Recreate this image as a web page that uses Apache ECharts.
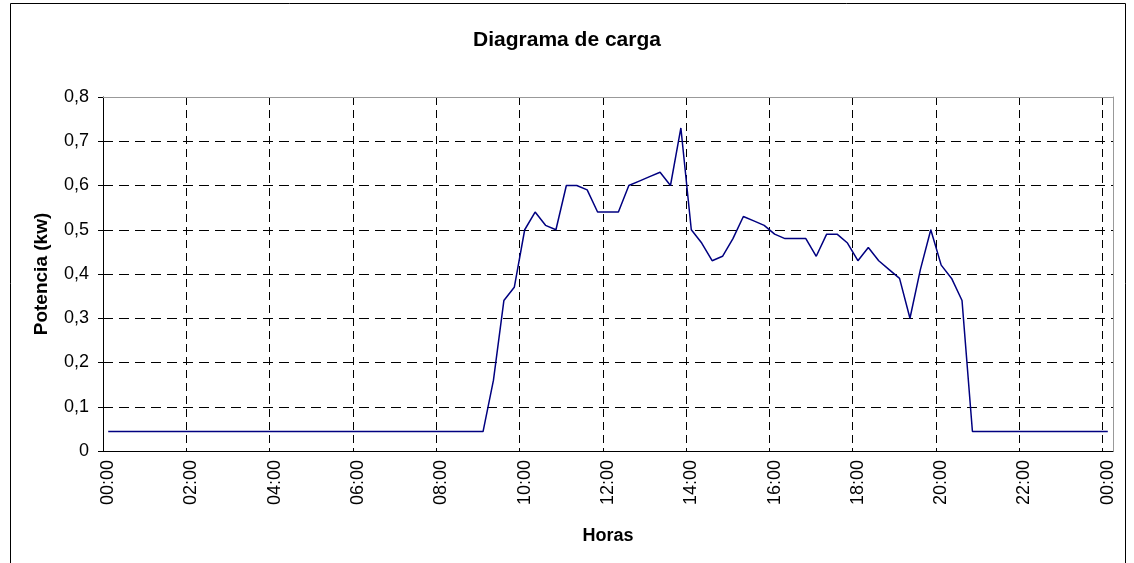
<!DOCTYPE html>
<html lang="es">
  <head>
    <meta charset="UTF-8" />
    <title>Diagrama de carga</title>
    <style>
      html, body { margin: 0; padding: 0; background: #fff; }
      #container { width: 1134px; height: 563px; }
    </style>
    <script src="https://cdn.jsdelivr.net/npm/echarts@6.0.0/dist/echarts.min.js"></script>
  </head>
  <body>
    <div id="container"></div>
    <script>
      // 15 min steps, 00:00 .. 24:00 (shown as 00:00)
      const horas = []
      for (let k = 0; k <= 96; k++) {
        const h = Math.floor(k / 4) % 24
        const m = (k % 4) * 15
        horas.push(String(h).padStart(2, '0') + ':' + String(m).padStart(2, '0'))
      }

      const potencia = [
        0.044, 0.044, 0.044, 0.044, 0.044, 0.044, 0.044, 0.044, 0.044, 0.044,
        0.044, 0.044, 0.044, 0.044, 0.044, 0.044, 0.044, 0.044, 0.044, 0.044,
        0.044, 0.044, 0.044, 0.044, 0.044, 0.044, 0.044, 0.044, 0.044, 0.044,
        0.044, 0.044, 0.044, 0.044, 0.044, 0.044, 0.044,
        0.16, 0.34, 0.37, 0.50, 0.54, 0.51, 0.50, 0.60, 0.60, 0.59,
        0.54, 0.54, 0.54, 0.60, 0.61, 0.62, 0.63, 0.60, 0.73, 0.50,
        0.47, 0.43, 0.44, 0.48, 0.53, 0.52, 0.51, 0.49, 0.48, 0.48,
        0.48, 0.44, 0.49, 0.49, 0.47, 0.43, 0.46, 0.43, 0.41, 0.39,
        0.30, 0.41, 0.50, 0.42, 0.39, 0.34,
        0.044, 0.044, 0.044, 0.044, 0.044, 0.044, 0.044, 0.044, 0.044, 0.044,
        0.044, 0.044, 0.044, 0.044
      ]

      const font = 'Liberation Sans'
      const chart = echarts.init(document.getElementById('container'))

      chart.setOption({
        animation: false,
        textStyle: { fontFamily: font },
        title: {
          text: 'Diagrama de carga',
          left: 'center',
          top: 25,
          textStyle: { fontSize: 21, fontWeight: 'bold', color: '#000', fontFamily: font }
        },
        graphic: [
          {
            type: 'rect',
            shape: { x: 10.5, y: 3.5, width: 1115, height: 580 },
            style: { fill: 'none', stroke: '#000', lineWidth: 1 },
            silent: true
          }
        ],
        grid: { left: 103, top: 97, right: 21, bottom: 112 },
        xAxis: [
          {
            type: 'category',
            data: horas,
            boundaryGap: true,
            name: 'Horas',
            nameLocation: 'middle',
            nameGap: 76,
            nameTextStyle: { fontSize: 18, fontWeight: 'bold', color: '#000', fontFamily: font },
            axisLine: { onZero: false, lineStyle: { color: '#000', width: 1 } },
            axisTick: { interval: 7, length: 5, lineStyle: { color: '#000' } },
            axisLabel: { interval: 7, rotate: 90, margin: 9, fontSize: 18, color: '#000', fontFamily: font },
            splitLine: { show: true, interval: 7, lineStyle: { color: '#000', type: [8, 5], width: 1 } }
          },
          {
            type: 'category',
            data: horas,
            position: 'top',
            axisLine: { show: true, onZero: false, lineStyle: { color: '#999', width: 1 } },
            axisTick: { show: false },
            axisLabel: { show: false },
            splitLine: { show: false }
          }
        ],
        yAxis: [
          {
            type: 'value',
            min: 0,
            max: 0.8,
            interval: 0.1,
            name: 'Potencia (kw)',
            nameLocation: 'middle',
            nameRotate: 90,
            nameGap: 52,
            nameTextStyle: { fontSize: 19, fontWeight: 'bold', color: '#000', fontFamily: font },
            axisLine: { show: true, onZero: false, lineStyle: { color: '#000', width: 1 } },
            axisTick: { show: true, length: 5, lineStyle: { color: '#000' } },
            axisLabel: {
              margin: 14,
              fontSize: 18,
              color: '#000',
              fontFamily: font,
              formatter: function (v) {
                return v === 0 ? '0' : v.toFixed(1).replace('.', ',')
              }
            },
            splitLine: {
              show: true,
              lineStyle: {
                color: ['transparent', '#000', '#000', '#000', '#000', '#000', '#000', '#000', 'transparent'],
                type: [10, 6],
                width: 1
              }
            }
          },
          {
            type: 'value',
            min: 0,
            max: 0.8,
            position: 'right',
            axisLine: { show: true, onZero: false, lineStyle: { color: '#999', width: 1 } },
            axisTick: { show: false },
            axisLabel: { show: false },
            splitLine: { show: false }
          }
        ],
        series: [
          {
            type: 'line',
            data: potencia,
            showSymbol: false,
            symbol: 'none',
            lineStyle: { color: '#000080', width: 1.5 },
            z: 5
          }
        ]
      })
    </script>
  </body>
</html>
